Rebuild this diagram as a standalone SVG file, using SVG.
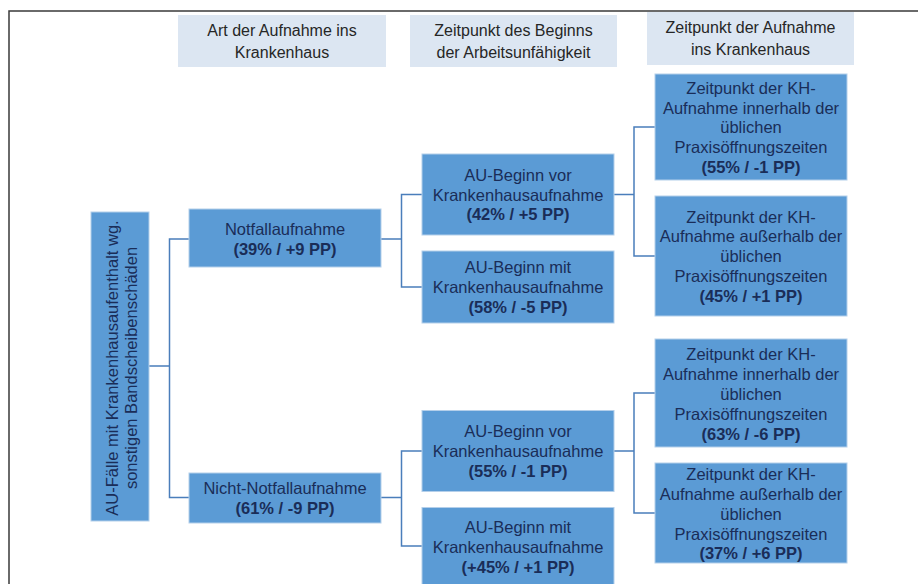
<svg xmlns="http://www.w3.org/2000/svg" width="918" height="584" viewBox="0 0 918 584">
<style>
.hdr{fill:#DCE6F2}
.htx{font-family:"Liberation Sans",Arial,sans-serif;font-size:16px;fill:#262626;text-anchor:middle;dominant-baseline:central}
.box{fill:#5B9BD5;stroke:#B4CFEA;stroke-width:1}
.tx{font-family:"Liberation Sans",Arial,sans-serif;font-size:16.5px;fill:#1A2D58;text-anchor:middle;dominant-baseline:central}
.b{font-weight:bold}
.con{fill:none;stroke:#4A7EBB;stroke-width:1.5}
</style>
<rect x="9" y="11" width="930" height="600" fill="#ffffff" stroke="#3A3A3A" stroke-width="1.5"/>
<g id="header1"><rect class="hdr" x="178" y="15" width="208" height="52"/><text class="htx" x="282" y="30">Art der Aufnahme ins</text><text class="htx" x="282" y="52">Krankenhaus</text></g>
<g id="header2"><rect class="hdr" x="410" y="15" width="207" height="52"/><text class="htx" x="513.5" y="30">Zeitpunkt des Beginns</text><text class="htx" x="513.5" y="52">der Arbeitsunfähigkeit</text></g>
<g id="header3"><rect class="hdr" x="647" y="12" width="207" height="53"/><text class="htx" x="750.5" y="27">Zeitpunkt der Aufnahme</text><text class="htx" x="750.5" y="49">ins Krankenhaus</text></g>
<g id="connectors">
<path class="con" d="M149 366H169.5M190 239H169.5V497.5H190"/>
<path class="con" d="M381 239H401.5M422 194.5H401.5V287H422"/>
<path class="con" d="M381 497.5H401.5M422 451H401.5V546H422"/>
<path class="con" d="M614 194.5H634M655 127H634V256H655"/>
<path class="con" d="M614 451H634M655 393H634V513H655"/>
</g>
<g id="root"><rect class="box" x="91" y="212" width="58" height="309"/><g transform="translate(120.5,368) rotate(-90)"><text class="tx" x="0" y="-9">AU-Fälle mit Krankenhausaufenthalt wg.</text><text class="tx" x="0" y="10">sonstigen Bandscheibenschäden</text></g></g>
<g id="notfall"><rect class="box" x="189" y="209" width="192" height="58"/><text class="tx" x="285" y="229">Notfallaufnahme</text><text class="tx b" x="285" y="249">(39% / +9 PP)</text></g>
<g id="nichtnotfall"><rect class="box" x="189" y="473" width="192" height="50"/><text class="tx" x="285" y="488">Nicht-Notfallaufnahme</text><text class="tx b" x="285" y="508">(61% / -9 PP)</text></g>
<g id="au_vor_1"><rect class="box" x="422" y="154" width="192" height="81"/><text class="tx" x="518" y="175">AU-Beginn vor</text><text class="tx" x="518" y="194.5">Krankenhausaufnahme</text><text class="tx b" x="518" y="214">(42% / +5 PP)</text></g>
<g id="au_mit_1"><rect class="box" x="422" y="251" width="192" height="72"/><text class="tx" x="518" y="267">AU-Beginn mit</text><text class="tx" x="518" y="287">Krankenhausaufnahme</text><text class="tx b" x="518" y="307">(58% / -5 PP)</text></g>
<g id="au_vor_2"><rect class="box" x="422" y="410.5" width="192" height="81"/><text class="tx" x="518" y="431">AU-Beginn vor</text><text class="tx" x="518" y="451">Krankenhausaufnahme</text><text class="tx b" x="518" y="471">(55% / -1 PP)</text></g>
<g id="au_mit_2"><rect class="box" x="422" y="507.5" width="192" height="85"/><text class="tx" x="518" y="527">AU-Beginn mit</text><text class="tx" x="518" y="547">Krankenhausaufnahme</text><text class="tx b" x="518" y="567">(+45% / +1 PP)</text></g>
<g id="kh_inner_1"><rect class="box" x="655" y="74" width="192" height="106"/><text class="tx" x="751" y="88">Zeitpunkt der KH-</text><text class="tx" x="751" y="107.5">Aufnahme innerhalb der</text><text class="tx" x="751" y="127">üblichen</text><text class="tx" x="751" y="147">Praxisöffnungszeiten</text><text class="tx b" x="751" y="167">(55% / -1 PP)</text></g>
<g id="kh_ausser_1"><rect class="box" x="655" y="196" width="192" height="120"/><text class="tx" x="751" y="216.5">Zeitpunkt der KH-</text><text class="tx" x="751" y="236">Aufnahme außerhalb der</text><text class="tx" x="751" y="256">üblichen</text><text class="tx" x="751" y="276">Praxisöffnungszeiten</text><text class="tx b" x="751" y="295.5">(45% / +1 PP)</text></g>
<g id="kh_inner_2"><rect class="box" x="655" y="339" width="192" height="108"/><text class="tx" x="751" y="353.5">Zeitpunkt der KH-</text><text class="tx" x="751" y="373.5">Aufnahme innerhalb der</text><text class="tx" x="751" y="393.5">üblichen</text><text class="tx" x="751" y="413.5">Praxisöffnungszeiten</text><text class="tx b" x="751" y="433.5">(63% / -6 PP)</text></g>
<g id="kh_ausser_2"><rect class="box" x="655" y="463" width="192" height="100"/><text class="tx" x="751" y="473.5">Zeitpunkt der KH-</text><text class="tx" x="751" y="493.5">Aufnahme außerhalb der</text><text class="tx" x="751" y="513.5">üblichen</text><text class="tx" x="751" y="533.5">Praxisöffnungszeiten</text><text class="tx b" x="751" y="553">(37% / +6 PP)</text></g>
</svg>
